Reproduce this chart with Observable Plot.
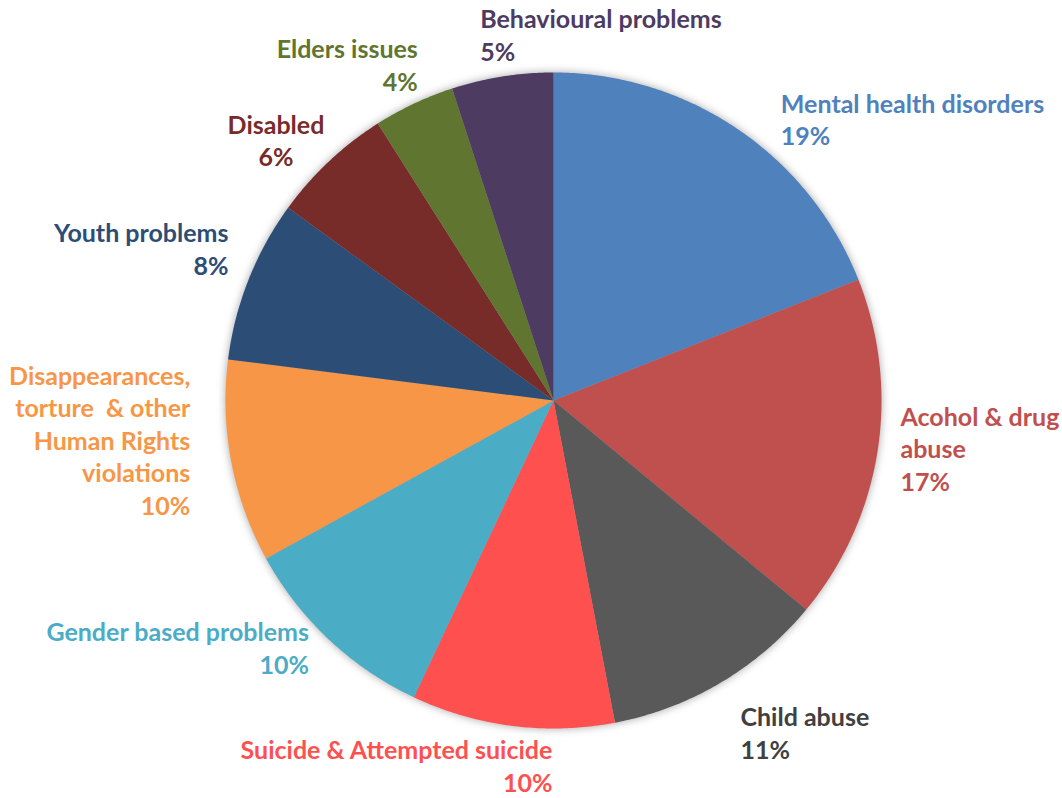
<!DOCTYPE html>
<html>
<head>
<meta charset="utf-8">
<script src="https://cdn.jsdelivr.net/npm/d3@7"></script>
<script src="https://cdn.jsdelivr.net/npm/@observablehq/plot@0.6"></script>
<style>
  html, body { margin: 0; padding: 0; background: #ffffff; }
  #chart { width: 1062px; height: 798px; }
</style>
</head>
<body>
<div id="chart"></div>
<script>
// ---- data (clockwise from 12 o'clock) ----
const categories = [
  "Mental health disorders",
  "Acohol & drug abuse",
  "Child abuse",
  "Suicide & Attempted suicide",
  "Gender based problems",
  "Disappearances, torture  & other Human Rights violations",
  "Youth problems",
  "Disabled",
  "Elders issues",
  "Behavioural problems"
];
const values = [19, 17, 11, 10, 10, 10, 8, 6, 4, 5];
const percentLabels = ["19%", "17%", "11%", "10%", "10%", "10%", "8%", "6%", "4%", "5%"];

// ---- styles / layout ----
const sliceColors = ["#4F81BD", "#C0504D", "#595959", "#FF5050", "#4BACC6", "#F79646", "#2C4D75", "#772C2A", "#5F7530", "#4D3B62"];
const labelColors = ["#4F81BD", "#C0504D", "#404040", "#FF5050", "#4BACC6", "#F79646", "#2C4D75", "#772C2A", "#5F7530", "#4D3B62"];
const labelLines = [
  "Mental health disorders",
  "Acohol & drug\nabuse",
  "Child abuse",
  "Suicide & Attempted suicide",
  "Gender based problems",
  "Disappearances,\ntorture  & other\nHuman Rights\nviolations",
  "Youth problems",
  "Disabled",
  "Elders issues",
  "Behavioural problems"
];
const labelAnchors = ["start", "start", "start", "end", "end", "end", "end", "middle", "end", "start"];
// pixel offsets of the label's last baseline from the slice's outer mid-point
const labelOffsets = [[43, 16], [23, 39], [20, 76], [40, 66], [-20, 34], [-41, 53], [-20, -5], [-53, 5], [4, -13], [-22, -16]];

const W = 1062, H = 798;
const R = 328;            // pie radius in px
const CX = 553, CY = 400; // pie centre in px

const total = d3.sum(values);
let acc = 0;
const slices = values.map((v, i) => {
  const a0 = acc / total * 2 * Math.PI;
  acc += v;
  const a1 = acc / total * 2 * Math.PI;
  return { i, name: categories[i], value: v, a0, a1, mid: (a0 + a1) / 2 };
});

// polygon vertices of each slice in unit (data) coordinates
const slicePoints = [];
for (const s of slices) {
  slicePoints.push({ name: s.name, color: sliceColors[s.i], x: 0, y: 0 });
  const n = Math.max(4, Math.ceil((s.a1 - s.a0) / (Math.PI / 360)));
  for (let k = 0; k <= n; k++) {
    const a = s.a0 + (s.a1 - s.a0) * k / n;
    slicePoints.push({ name: s.name, color: sliceColors[s.i], x: Math.sin(a), y: Math.cos(a) });
  }
  slicePoints.push({ name: s.name, color: sliceColors[s.i], x: 0, y: 0 });
}

const labels = slices.map(s => ({
  text: labelLines[s.i] + "\n" + percentLabels[s.i],
  color: labelColors[s.i],
  anchor: labelAnchors[s.i],
  x: Math.sin(s.mid) + labelOffsets[s.i][0] / R,
  y: Math.cos(s.mid) - labelOffsets[s.i][1] / R
}));

const textOpts = a => ({
  x: "x", y: "y", text: "text", fill: "color",
  textAnchor: a, lineAnchor: "bottom", lineHeight: 1.3,
  fontSize: 25, fontWeight: "bold"
});

const chart = Plot.plot({
  width: W, height: H,
  marginTop: 0, marginRight: 0, marginBottom: 0, marginLeft: 0,
  style: { fontFamily: "Lato, 'Open Sans', sans-serif", background: "#ffffff" },
  x: { domain: [-CX / R, (W - CX) / R], axis: null },
  y: { domain: [-(H - CY) / R, CY / R], axis: null },
  color: { type: "identity" },
  marks: [
    Plot.line(slicePoints, { x: "x", y: "y", z: "name", fill: "color", stroke: "none", curve: "linear" }),
    Plot.text(labels.filter(d => d.anchor === "start"), textOpts("start")),
    Plot.text(labels.filter(d => d.anchor === "end"), textOpts("end")),
    Plot.text(labels.filter(d => d.anchor === "middle"), textOpts("middle"))
  ]
});

document.getElementById("chart").appendChild(chart);
const g = chart.querySelector('g[aria-label="line"]');
if (g) g.style.filter = "drop-shadow(0px 0px 4px rgba(0,0,0,0.35))";
</script>
</body>
</html>
